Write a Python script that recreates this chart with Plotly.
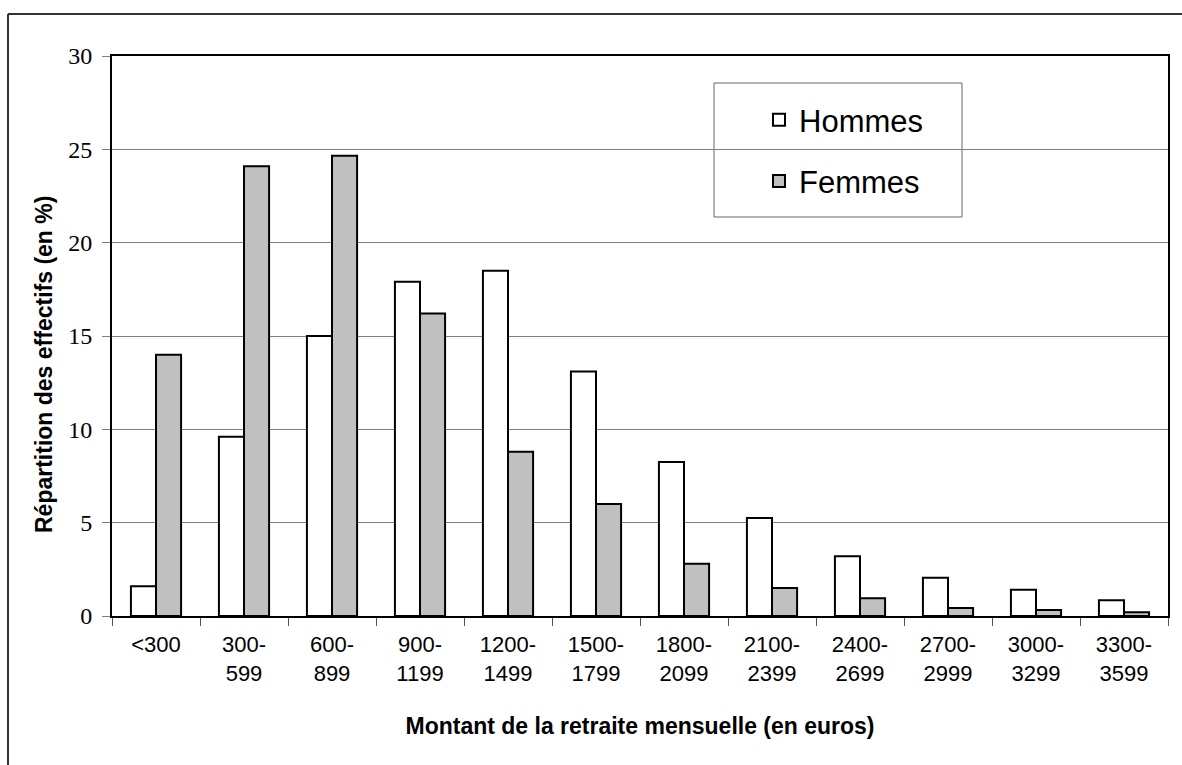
import plotly.graph_objects as go

categories = ["<300", "300-<br>599", "600-<br>899", "900-<br>1199", "1200-<br>1499", "1500-<br>1799",
              "1800-<br>2099", "2100-<br>2399", "2400-<br>2699", "2700-<br>2999", "3000-<br>3299", "3300-<br>3599"]
hommes = [1.6, 9.6, 15.0, 17.9, 18.5, 13.1, 8.25, 5.25, 3.2, 2.05, 1.4, 0.85]
femmes = [14.0, 24.1, 24.65, 16.2, 8.8, 6.0, 2.8, 1.5, 0.95, 0.43, 0.32, 0.2]
y_ticks = [0, 5, 10, 15, 20, 25, 30]

W, H = 1182, 765
L, R, T, B = 112, 14, 56, 149
pw, ph = W - L - R, H - T - B

def px_x(x):
    return (x - L) / pw

def px_y(y):
    return 1 - (y - T) / ph

fig = go.Figure()
fig.add_trace(go.Bar(x=categories, y=hommes, name="Hommes", legendgroup="h",
                     marker=dict(color="white", line=dict(color="black", width=2))))
fig.add_trace(go.Bar(x=categories, y=femmes, name="Femmes", legendgroup="f",
                     marker=dict(color="#C0C0C0", line=dict(color="black", width=2))))

fig.update_layout(
    width=W, height=H,
    margin=dict(l=L, r=R, t=T, b=B, autoexpand=False),
    paper_bgcolor="white", plot_bgcolor="white",
    barmode="group", bargap=0.43, bargroupgap=0,
    showlegend=True,
    legend=dict(x=px_x(759), y=px_y(93), xanchor="left", yanchor="top",
                font=dict(family="Liberation Sans, Arial", size=31, color="black"),
                bgcolor="rgba(0,0,0,0)", borderwidth=0, tracegroupgap=18),
    font=dict(family="Liberation Sans, Arial", color="black"),
)

fig.update_xaxes(
    type="category", tickson="boundaries", ticks="outside", ticklen=8, tickwidth=1,
    tickcolor="#555555", showline=True, linecolor="black", linewidth=2, mirror=True,
    showgrid=False, ticklabelstandoff=8,
    tickfont=dict(family="Liberation Sans, Arial", size=22, color="black"),
    title=dict(text="<b>Montant de la retraite mensuelle (en euros)</b>",
               font=dict(family="Liberation Sans, Arial", size=23, color="black"), standoff=33),
)
fig.update_yaxes(
    range=[0, 30], tickvals=y_ticks, ticks="outside", ticklen=8, tickwidth=1,
    tickcolor="#808080", showline=True, linecolor="black", linewidth=2, mirror=True,
    showgrid=True, gridcolor="#808080", gridwidth=1, zeroline=False,
    ticklabelstandoff=5,
    tickfont=dict(family="Liberation Serif, Times New Roman", size=24, color="black"),
)

# y axis title
fig.add_annotation(text="<b>Répartition des effectifs (en %)</b>", textangle=-90,
                   xref="paper", yref="paper", x=px_x(44), y=px_y(365),
                   xanchor="center", yanchor="middle", showarrow=False,
                   font=dict(family="Liberation Sans, Arial", size=23, color="black"))

# legend box
fig.add_shape(type="rect", xref="paper", yref="paper",
              x0=px_x(714), x1=px_x(962), y0=px_y(217), y1=px_y(83),
              line=dict(color="#666666", width=1), fillcolor="white", layer="below")
# outer frame (left and top edges)
fig.add_shape(type="line", xref="paper", yref="paper",
              x0=px_x(8), x1=px_x(8), y0=px_y(780), y1=px_y(14),
              line=dict(color="#333333", width=2))
fig.add_shape(type="line", xref="paper", yref="paper",
              x0=px_x(8), x1=px_x(1200), y0=px_y(14), y1=px_y(14),
              line=dict(color="#333333", width=2))

fig.write_html("out.html", config={"displayModeBar": False},
               post_script="document.body.style.margin='0';document.body.style.overflow='hidden';")
